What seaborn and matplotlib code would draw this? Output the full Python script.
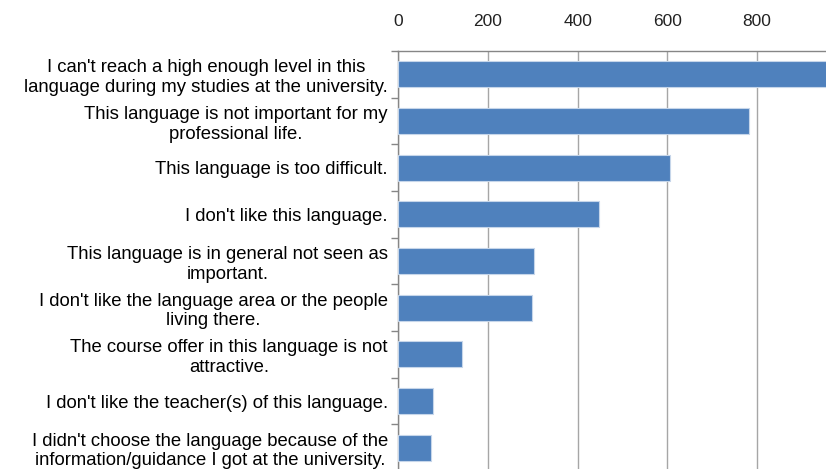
import matplotlib
matplotlib.use("Agg")
import matplotlib.pyplot as plt
import seaborn as sns
import pandas as pd
from matplotlib.ticker import FixedLocator

categories = [
    "I can't reach a high enough level in this\nlanguage during my studies at the university.",
    "This language is not important for my\nprofessional life.",
    "This language is too difficult.",
    "I don't like this language.",
    "This language is in general not seen as\nimportant.",
    "I don't like the language area or the people\nliving there.",
    "The course offer in this language is not\nattractive.",
    "I don't like the teacher(s) of this language.",
    "I didn't choose the language because of the\ninformation/guidance I got at the university.",
]
values = [975, 781, 606, 448, 303, 299, 141, 77, 73]
x_ticks = [0, 200, 400, 600, 800]

sns.set_theme(style="white")
plt.rcParams['font.family'] = ['Liberation Sans', 'DejaVu Sans']

df = pd.DataFrame({"reason": categories, "count": values})

fig = plt.figure(figsize=(8.26, 4.69), dpi=100)
ax = fig.add_axes([398.3 / 826, (469 - 471) / 469, 448.4 / 826, (471 - 51) / 469])

sns.barplot(data=df, x="count", y="reason", orient="h", color="#4F81BD",
            saturation=1, width=0.56, edgecolor="#c6d6ea", linewidth=0.8,
            ax=ax, zorder=3)

ax.set_xlim(0, 1000)
ax.set_ylim(len(categories) - 0.5, -0.5)
ax.set_xlabel("")
ax.set_ylabel("")

ax.xaxis.tick_top()
ax.set_xticks(x_ticks)
ax.set_xticklabels([str(t) for t in x_ticks])
ax.tick_params(axis="x", length=0, pad=16, labelsize=12.5, labelcolor="#222222")
ax.grid(axis="x", color="#a6a6a6", linewidth=1.0, zorder=0)
ax.axvline(1000, color="#a6a6a6", linewidth=1.0, zorder=0)

ax.set_yticks(range(len(categories)))
ax.set_yticklabels(categories, multialignment="center", linespacing=1.2)
ax.tick_params(axis="y", which="major", length=0, pad=7.5, labelsize=13.3, labelcolor="black")
ax.yaxis.set_minor_locator(FixedLocator([i - 0.5 for i in range(len(categories) + 1)]))
ax.tick_params(axis="y", which="minor", left=True, length=5, width=1, color="#868686")

for s in ["right", "bottom"]:
    ax.spines[s].set_visible(False)
for s in ["top", "left"]:
    ax.spines[s].set_color("#868686")
    ax.spines[s].set_linewidth(1)

fig.savefig("out.png", dpi=100)
